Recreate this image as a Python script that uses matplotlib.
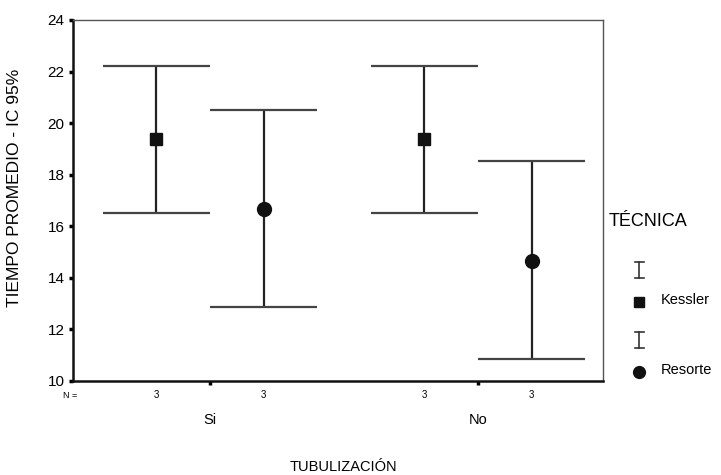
import matplotlib
matplotlib.use("Agg")
import matplotlib.pyplot as plt
import numpy as np

plt.rcParams['font.family'] = ['Liberation Sans', 'DejaVu Sans']

groups = ["Si", "No"]
techniques = ["Kessler", "Resorte"]
n_values = [[3, 3], [3, 3]]  # per group: Kessler, Resorte
means = {"Kessler": [19.38, 19.38], "Resorte": [16.67, 14.67]}
upper = {"Kessler": [22.2, 22.2], "Resorte": [20.5, 18.52]}
lower = {"Kessler": [16.5, 16.5], "Resorte": [12.88, 10.85]}
markers = {"Kessler": "s", "Resorte": "o"}
msize = {"Kessler": 8, "Resorte": 10}
offsets = {"Kessler": -0.2, "Resorte": 0.2}
yticks = [10, 12, 14, 16, 18, 20, 22, 24]

W, H = 721, 475
fig = plt.figure(figsize=(W / 100, H / 100), dpi=100)
ax = fig.add_axes([73 / W, 1 - 381 / H, (603 - 73) / W, (381 - 20) / H])

xc = np.arange(len(groups), dtype=float)
half = 0.2
for t in techniques:
    x = xc + offsets[t]
    ax.vlines(x, lower[t], upper[t], color="#222222", lw=1.6, zorder=2)
    ax.hlines(upper[t], x - half, x + half, color="#444444", lw=1.6, zorder=2)
    ax.hlines(lower[t], x - half, x + half, color="#444444", lw=1.6, zorder=2)
    ax.plot(x, means[t], ls="none", marker=markers[t], ms=msize[t],
            color="#111111", zorder=3)

ax.set_xlim(-0.511, 1.466)
ax.set_ylim(10, 24)
ax.set_yticks(yticks)
ax.set_yticklabels([str(v) for v in yticks], fontsize=11)
ax.set_xticks(xc)
ax.set_xticklabels([])
ax.tick_params(axis="y", direction="out", length=3, width=2.5, pad=3)
ax.tick_params(axis="x", direction="out", length=3, width=2.5)

for s in ["left", "bottom"]:
    ax.spines[s].set_linewidth(1.8)
    ax.spines[s].set_color("#111111")
for s in ["top", "right"]:
    ax.spines[s].set_linewidth(1.0)
    ax.spines[s].set_color("#555555")

# N row
trans = ax.get_xaxis_transform()
fig.text(63 / W, 1 - 396 / H, "N =", fontsize=6.5, ha="left", va="center")
for gi in range(len(groups)):
    for ti, t in enumerate(techniques):
        ax.text(xc[gi] + offsets[t], -0.04, str(n_values[gi][ti]), transform=trans,
                ha="center", va="center", fontsize=7)
    ax.text(xc[gi], -0.108, groups[gi], transform=trans, ha="center", va="center",
            fontsize=10.5)

fig.text(343 / W, 1 - 467 / H, "TUBULIZACIÓN", ha="center", va="center", fontsize=10.5)
fig.text(15 / W, 1 - 188 / H, "TIEMPO PROMEDIO - IC 95%", ha="center", va="center",
         rotation=90, fontsize=12.5)

# Legend
lax = fig.add_axes([0, 0, 1, 1], facecolor="none")
lax.set_xlim(0, W)
lax.set_ylim(H, 0)
lax.axis("off")
lax.text(609, 222, "TÉCNICA", ha="left", va="center", fontsize=13)
leg_y = {"Kessler": 302, "Resorte": 372}
for t in techniques:
    yb = leg_y[t] - 32
    lax.plot([639, 639], [yb - 8, yb + 8], color="#333333", lw=1.2)
    lax.plot([635, 644], [yb - 8, yb - 8], color="#333333", lw=1.2)
    lax.plot([635, 644], [yb + 8, yb + 8], color="#333333", lw=1.2)
    lax.plot([639], [leg_y[t]], marker=markers[t], ms=msize[t] * 0.85, color="#111111")
    lax.text(661, leg_y[t] - 2, t, ha="left", va="center", fontsize=10.5)

fig.savefig("out.png", dpi=100)
